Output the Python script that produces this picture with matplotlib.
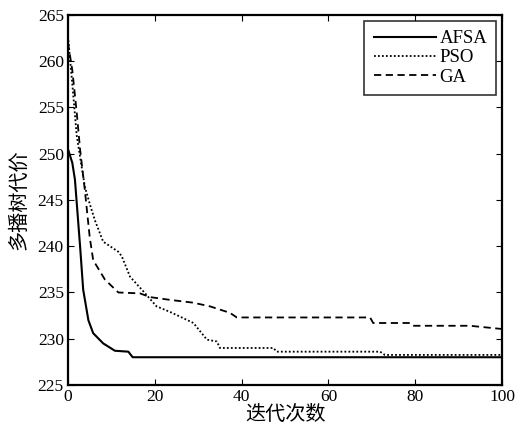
import matplotlib
matplotlib.use("Agg")
import matplotlib.pyplot as plt

# Data
afsa_x = [0, 1, 1.6, 2.8, 3.5, 4.7, 5.8, 8.1, 10.8, 13.9, 14.9, 100]
afsa_y = [250.5, 249.0, 247.2, 239.9, 235.3, 232.0, 230.6, 229.5, 228.7, 228.6, 228.0, 228.0]

pso_x = [0, 1, 2, 3, 3.9, 5, 6.2, 8.1, 10, 11.6, 12.4, 14.3, 17.4, 20.4, 23.5, 28.9, 32, 34.3, 35, 47.3, 48.1, 71.9, 73, 100]
pso_y = [262.7, 257.5, 252.0, 249.0, 246.4, 244.6, 242.8, 240.5, 239.9, 239.4, 238.9, 236.7, 235.1, 233.5, 232.9, 231.7, 229.9, 229.7, 229.0, 229.0, 228.6, 228.6, 228.25, 228.25]

ga_x = [0, 1, 2, 2.8, 3.9, 5, 5.8, 8.5, 11.6, 16.6, 18.9, 23.5, 28.8, 32.7, 37.3, 38.9, 69.6, 70.3, 78.8, 79.5, 92.6, 100]
ga_y = [262.0, 259.0, 254.5, 250.4, 246.0, 241.0, 238.5, 236.4, 235.0, 234.9, 234.5, 234.2, 233.9, 233.5, 232.8, 232.3, 232.3, 231.7, 231.7, 231.4, 231.4, 231.05]

x_ticks = [0, 20, 40, 60, 80, 100]
y_ticks = [225, 230, 235, 240, 245, 250, 255, 260, 265]
labels = ["AFSA", "PSO", "GA"]

serif = ["Liberation Serif", "DejaVu Serif"]
cjk = ["Noto Sans CJK SC", "DejaVu Sans"]

fig = plt.figure(figsize=(5.23, 4.30), dpi=100)
ax = fig.add_axes([0.130, 0.1047, 0.830, 0.8605])

ax.plot(afsa_x, afsa_y, color="black", lw=1.5, linestyle="-", label=labels[0])
ax.plot(pso_x, pso_y, color="black", lw=1.3, linestyle=(0, (1, 1.2)), label=labels[1])
ax.plot(ga_x, ga_y, color="black", lw=1.3, linestyle=(0, (4, 2.5)), label=labels[2])

ax.set_xlim(0, 100)
ax.set_ylim(225, 265)
ax.set_xticks(x_ticks)
ax.set_yticks(y_ticks)
ax.tick_params(direction="in", top=True, right=True, length=4, width=0.8,
               labelsize=12.5, pad=3)
for lab in ax.get_xticklabels() + ax.get_yticklabels():
    lab.set_family(serif)
for s in ax.spines.values():
    s.set_linewidth(1.6)

ax.set_xlabel("迭代次数", family=cjk, fontsize=14.5, labelpad=-1)
ax.set_ylabel("多播树代价", family=cjk, fontsize=14.5, labelpad=6)

leg = ax.legend(loc="upper right", prop={"family": serif, "size": 13.5},
                frameon=True, fancybox=False, edgecolor="black",
                handlelength=3.3, handletextpad=0.2, borderpad=0.5,
                labelspacing=0.12, borderaxespad=0.3)
leg.get_frame().set_linewidth(1.2)

fig.savefig("out.png", dpi=100)
